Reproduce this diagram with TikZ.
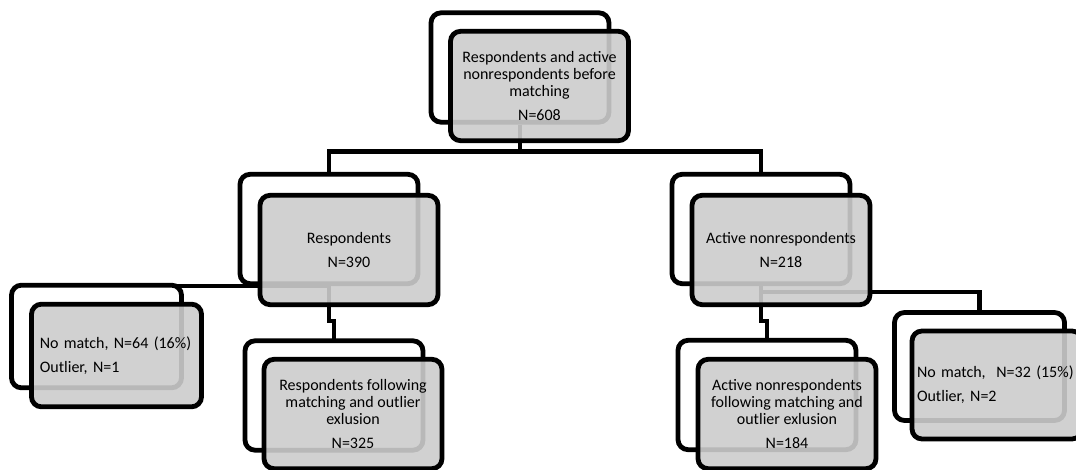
\documentclass[tikz,border=0pt]{standalone}
\usepackage{fontspec}
\setmainfont{Carlito}
\usetikzlibrary{positioning}

\begin{document}
\begin{tikzpicture}[x=0.75pt,y=-0.75pt,
  back/.style={draw, line width=3.6pt, rounded corners=7.5pt, fill=white, minimum width=133.5pt, minimum height=82pt},
  front/.style={back, fill=black!20, fill opacity=0.9, text opacity=1, align=center, font=\fontsize{12}{12.8}\selectfont},
  link/.style={line width=3.6pt}]
  \clip (0,0) rectangle (1076,470);
  % connectors go first, the boxes sit on top of them
  \node[back] (top) at (520,67.5) {};
  \node[back] (resp) at (329,229) {};
  \node[back] (nonresp) at (761,229) {};
  \draw[link] (top.south) -- ++(0,27) -| (resp.north);
  \draw[link] (top.south) -- ++(0,27) -| (nonresp.north);
  \draw[link] (resp.south) -| (96.5,290);
  \draw[link] (resp.south) -- ++(0,35) -| (334,345);
  \draw[link] (nonresp.south) -- ++(0,6) -| (979.5,320);
  \draw[link] (nonresp.south) -- ++(0,35) -| (767,345);
  \node[back, minimum width=127.5pt, minimum height=77pt] (respout) at (96.5,336.5) {};
  \node[back] (respmatch) at (334,395.5) {};
  \node[back] (nonrespmatch) at (767,395) {};
  \node[back, minimum width=127.5pt, minimum height=81pt] (nonrespout) at (979.5,366.5) {};
  % front boxes
  \node[front] (topf) at (539.5,86) {Respondents and active\\nonrespondents before\\matching\\[5pt]N=608};
  \node[front] (respf) at (349,250) {Respondents\\[5pt]N=390};
  \node[front] (nonrespf) at (781,250) {Active nonrespondents\\[5pt]N=218};
  \node[front, minimum width=127.5pt, minimum height=77pt, align=left, text width=115pt, inner xsep=0pt] (respoutf) at (116.5,355.5) {No match, N=64 (16\%)\\[5pt]Outlier, N=1};
  \node[front] (respmatchf) at (353,414) {Respondents following\\matching and outlier\\exlusion\\[5pt]N=325};
  \node[front] (nonrespmatchf) at (787,414) {Active nonrespondents\\following matching and\\outlier exlusion\\[5pt]N=184};
  \node[front, minimum width=127.5pt, minimum height=81pt, align=left, text width=120pt, inner xsep=0pt] (nonrespoutf) at (997,385) {No match,\ \ N=32 (15\%)\\[5pt]Outlier, N=2};
\end{tikzpicture}
\end{document}
